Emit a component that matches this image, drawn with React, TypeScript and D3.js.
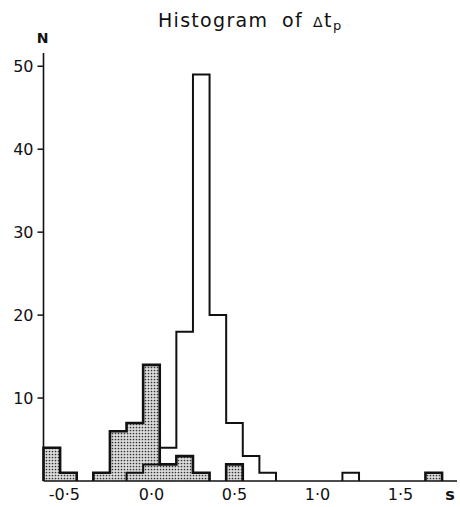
import React from "react";
import * as d3 from "d3";

// bin centres (s) and counts, bin width 0.1 s
const binCenters = [-0.6, -0.5, -0.4, -0.3, -0.2, -0.1, 0.0, 0.1, 0.2, 0.3, 0.4, 0.5, 0.6, 0.7, 0.8, 0.9, 1.0, 1.1, 1.2, 1.3, 1.4, 1.5, 1.6, 1.7];
const openCounts = [0, 0, 0, 0, 0, 1, 2, 4, 18, 49, 20, 7, 3, 1, 0, 0, 0, 0, 1, 0, 0, 0, 0, 0];
const shadedCounts = [4, 1, 0, 1, 6, 7, 14, 2, 3, 1, 0, 2, 0, 0, 0, 0, 0, 0, 0, 0, 0, 0, 0, 1];
const xTicks = [-0.5, 0.0, 0.5, 1.0, 1.5];
const yTicks = [10, 20, 30, 40, 50];
const BIN = 0.1;

const W = 460;
const H = 507;

const x = d3.scaleLinear().domain([-0.65, 1.84]).range([43.5, 457]);
const y = d3.scaleLinear().domain([0, 51.6]).range([481, 53]);

function runs(counts: number[]) {
  const out: number[][] = [];
  let cur: number[] = [];
  counts.forEach((c, i) => {
    if (c > 0) cur.push(i);
    else if (cur.length) {
      out.push(cur);
      cur = [];
    }
  });
  if (cur.length) out.push(cur);
  return out;
}

function stepPath(counts: number[], run: number[]) {
  const pts: [number, number][] = [];
  const first = run[0];
  pts.push([x(binCenters[first] - BIN / 2), y(0)]);
  run.forEach((i) => {
    pts.push([x(binCenters[i] - BIN / 2), y(counts[i])]);
    pts.push([x(binCenters[i] + BIN / 2), y(counts[i])]);
  });
  const last = run[run.length - 1];
  pts.push([x(binCenters[last] + BIN / 2), y(0)]);
  return d3.line()(pts) as string;
}

const fmt = (v: number) => {
  const s = Math.abs(v).toFixed(1).replace(".", "·");
  return v < 0 ? "-" + s : s;
};

export default function App() {
  const font = "'DejaVu Sans', sans-serif";
  return (
    <svg width={W} height={H} style={{ position: "absolute", left: 0, top: 0, background: "#fff" }}>
      <defs>
        <pattern id="dots" width={3} height={3} patternUnits="userSpaceOnUse">
          <rect width={3} height={3} fill="#dcdcdc" />
          <circle cx={1.5} cy={1.5} r={0.85} fill="#333" />
        </pattern>
      </defs>

      {/* title */}
      <text fontFamily={font} fontSize={19} fill="#111" y={27}>
        <tspan x={158} letterSpacing={1.3}>Histogram</tspan>
        <tspan x={282} letterSpacing={1.3}>of</tspan>
        <tspan x={313} fontSize={14}>Δ</tspan>
        <tspan x={324}>t</tspan>
        <tspan x={333} fontSize={13} dy={3}>p</tspan>
      </text>

      {/* shaded histogram fills */}
      {shadedCounts.map((c, i) =>
        c > 0 ? (
          <rect
            key={"s" + i}
            x={x(binCenters[i] - BIN / 2)}
            y={y(c)}
            width={x(binCenters[i] + BIN / 2) - x(binCenters[i] - BIN / 2)}
            height={y(0) - y(c)}
            fill="url(#dots)"
          />
        ) : null
      )}
      {runs(shadedCounts).map((r, k) => (
        <path key={"so" + k} d={stepPath(shadedCounts, r)} fill="none" stroke="#111" strokeWidth={2.6} strokeLinejoin="miter" />
      ))}

      {/* open histogram */}
      {runs(openCounts).map((r, k) => (
        <path key={"o" + k} d={stepPath(openCounts, r)} fill="none" stroke="#111" strokeWidth={2} strokeLinejoin="miter" />
      ))}

      {/* axes */}
      <line x1={x.range()[0]} x2={x.range()[1]} y1={y(0)} y2={y(0)} stroke="#111" strokeWidth={1.6} />
      <line x1={x.range()[0]} x2={x.range()[0]} y1={y(0)} y2={y.range()[1]} stroke="#111" strokeWidth={1.6} />
      {yTicks.map((t) => (
        <g key={"yt" + t}>
          <line x1={x.range()[0] - 6} x2={x.range()[0]} y1={y(t)} y2={y(t)} stroke="#111" strokeWidth={1.5} />
          <text x={x.range()[0] - 10} y={y(t)} dy="0.36em" textAnchor="end" fontFamily={font} fontSize={16} fill="#111">
            {t}
          </text>
        </g>
      ))}
      {xTicks.map((t) => (
        <text
          key={"xt" + t}
          x={x(t) - (t < 0 ? 4 : 0)}
          y={500}
          textAnchor="middle"
          fontFamily={font}
          fontSize={16}
          fill="#111"
        >
          {fmt(t)}
        </text>
      ))}
      <text x={x.range()[0] - 1} y={43} textAnchor="middle" fontFamily={font} fontSize={14} fontWeight="bold" fill="#111">
        N
      </text>
      <text x={450} y={500} textAnchor="middle" fontFamily={font} fontSize={16} fontWeight="bold" fill="#111">
        s
      </text>
    </svg>
  );
}
